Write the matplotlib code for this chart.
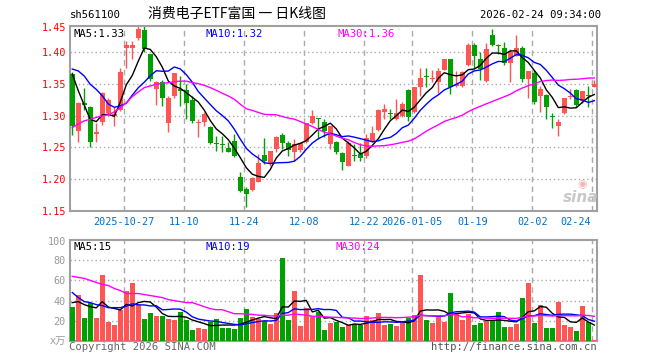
import numpy as np
import pandas as pd
import matplotlib
matplotlib.use('Agg')
import matplotlib.pyplot as plt
from matplotlib.transforms import blended_transform_factory

# ---------------- data ----------------
opens = [1.365, 1.276, 1.319, 1.314, 1.271, 1.290, 1.304, 1.2995, 1.309, 1.406,
         1.406, 1.421, 1.435, 1.396, 1.341, 1.352, 1.289, 1.330, 1.342, 1.340,
         1.325, 1.288, 1.290, 1.282, 1.257, 1.256, 1.249, 1.260, 1.204, 1.185,
         1.183, 1.196, 1.238, 1.226, 1.248, 1.269, 1.257, 1.243, 1.246, 1.259,
         1.289, 1.295, 1.290, 1.255, 1.259, 1.241, 1.221, 1.237, 1.240, 1.237,
         1.260, 1.278, 1.306, 1.303, 1.294, 1.300, 1.340, 1.305, 1.344, 1.361,
         1.358, 1.352, 1.371, 1.388, 1.346, 1.346, 1.380, 1.410, 1.389, 1.354,
         1.426, 1.410, 1.406, 1.383, 1.394, 1.406, 1.357, 1.366, 1.330, 1.332,
         1.298, 1.283, 1.304, 1.329, 1.340, 1.323, 1.331, 1.345]
highs = [1.368, 1.321, 1.343, 1.315, 1.289, 1.337, 1.327, 1.314, 1.374, 1.417,
         1.417, 1.443, 1.443, 1.397, 1.354, 1.355, 1.330, 1.367, 1.362, 1.350,
         1.330, 1.294, 1.305, 1.283, 1.268, 1.268, 1.259, 1.271, 1.211, 1.188,
         1.203, 1.240, 1.265, 1.245, 1.268, 1.272, 1.260, 1.263, 1.259, 1.289,
         1.309, 1.296, 1.295, 1.284, 1.260, 1.242, 1.260, 1.255, 1.257, 1.271,
         1.284, 1.311, 1.318, 1.310, 1.326, 1.321, 1.341, 1.345, 1.375, 1.375,
         1.372, 1.375, 1.389, 1.389, 1.370, 1.370, 1.414, 1.414, 1.400, 1.414,
         1.436, 1.413, 1.415, 1.405, 1.426, 1.409, 1.370, 1.372, 1.346, 1.333,
         1.304, 1.295, 1.328, 1.341, 1.341, 1.339, 1.346, 1.355]
lows = [1.270, 1.259, 1.309, 1.251, 1.258, 1.285, 1.300, 1.284, 1.307, 1.375,
        1.389, 1.419, 1.399, 1.354, 1.316, 1.315, 1.274, 1.327, 1.315, 1.294,
        1.288, 1.267, 1.284, 1.255, 1.245, 1.243, 1.242, 1.235, 1.180, 1.156,
        1.182, 1.195, 1.224, 1.221, 1.242, 1.248, 1.237, 1.228, 1.243, 1.257,
        1.287, 1.263, 1.267, 1.247, 1.240, 1.214, 1.220, 1.229, 1.229, 1.234,
        1.259, 1.276, 1.294, 1.294, 1.293, 1.298, 1.292, 1.304, 1.331, 1.344,
        1.352, 1.336, 1.371, 1.333, 1.344, 1.344, 1.377, 1.375, 1.356, 1.353,
        1.409, 1.396, 1.380, 1.353, 1.393, 1.352, 1.328, 1.318, 1.305, 1.294,
        1.281, 1.268, 1.302, 1.326, 1.314, 1.320, 1.313, 1.344]
closes = [1.283, 1.320, 1.317, 1.258, 1.274, 1.336, 1.324, 1.302, 1.369, 1.410,
          1.410, 1.436, 1.405, 1.358, 1.353, 1.328, 1.327, 1.366, 1.339, 1.320,
          1.291, 1.290, 1.302, 1.257, 1.255, 1.253, 1.243, 1.236, 1.182, 1.176,
          1.202, 1.226, 1.228, 1.244, 1.266, 1.257, 1.246, 1.255, 1.257, 1.288,
          1.300, 1.294, 1.275, 1.283, 1.243, 1.227, 1.257, 1.236, 1.234, 1.265,
          1.273, 1.309, 1.310, 1.302, 1.304, 1.318, 1.298, 1.344, 1.359, 1.360,
          1.359, 1.370, 1.388, 1.344, 1.350, 1.368, 1.410, 1.393, 1.373, 1.405,
          1.410, 1.409, 1.383, 1.400, 1.406, 1.357, 1.370, 1.321, 1.341, 1.313,
          1.297, 1.290, 1.327, 1.331, 1.316, 1.339, 1.330, 1.349]
volumes = [34, 46, 23, 38, 23, 65, 19, 16, 31, 50,
           57, 36, 22, 28, 25, 25, 22, 21, 29, 21,
           11, 13, 12, 19, 22, 13, 13, 12, 23, 32,
           24, 22, 20, 17, 28, 82, 21, 50, 15, 33,
           25, 29, 11, 18, 19, 14, 16, 17, 16, 25,
           21, 28, 16, 17, 15, 19, 23, 26, 65, 21,
           18, 24, 19, 48, 27, 21, 27, 16, 18, 20,
           21, 29, 14, 14, 17, 43, 57, 18, 36, 13,
           13, 39, 16, 14, 10, 35, 19, 1]

# moving-average values before enough history is visible
ma5_head = [1.365, 1.339, 1.316, 1.294]
ma10_head = [1.373, 1.370, 1.362, 1.349, 1.341, 1.331, 1.318, 1.313, 1.315]
ma30_head = [1.281, 1.2865, 1.2917, 1.294, 1.297, 1.2995, 1.301, 1.3057, 1.3125,
             1.320, 1.3297, 1.337, 1.3438, 1.3464, 1.349, 1.3505, 1.3516, 1.353,
             1.354, 1.354, 1.3516, 1.350, 1.3474, 1.3438, 1.3396, 1.335, 1.3307,
             1.3255, 1.3177]
vma5_head = [38, 39, 36, 34]
vma10_head = [48, 43, 39, 38, 36, 35, 33, 33, 33]
vma30_head = [64, 63, 62, 60, 58, 56, 55, 52, 50, 47, 47, 47, 46, 45, 44, 43,
              41, 40, 39, 38, 38, 36, 34, 32, 31, 31, 29, 27, 27]

date_tick_idx = [9, 19, 29, 39, 49, 57, 67, 77, 87]
date_tick_labels = ['2025-10-27', '11-10', '11-24', '12-08', '12-22',
                    '2026-01-05', '01-19', '02-02', '02-24']
price_ticks = [1.40, 1.35, 1.30, 1.25, 1.20, 1.15]
price_tick_labels = ['1.40', '1.35', '1.30', '1.25', '1.20', '1.15']
price_top_label = '1.45'
vol_ticks = [80, 60, 40, 20]
vol_tick_labels = ['80', '60', '40', '20']
vol_top_label = '100'

price_legend = ['MA5:1.33', 'MA10:1.32', 'MA30:1.36']
vol_legend = ['MA5:15', 'MA10:19', 'MA30:24']

# ---------------- style ----------------
RED = '#ff5555'
GREEN = '#00a000'
MA_COLORS = ['#000000', '#0000ff', '#ff00ff']
GRID = '#aaaaaa'
FRAME = '#a0a0a0'
MONO = 'DejaVu Sans Mono'
FS = 7.3

W, H = 660, 360
fig = plt.figure(figsize=(W / 100, H / 100), dpi=100)
fig.patch.set_facecolor('white')


def box(l, t, r, b):
    return [l / W, 1 - b / H, (r - l) / W, (b - t) / H]


def ptext(x, y, s, **kw):
    fig.text(x / W, 1 - y / H, s, **kw)


ax = fig.add_axes(box(70, 26, 597, 211))
axv = fig.add_axes(box(70, 240, 597, 341))

n = len(closes)
x = np.arange(n)
o = np.array(opens); h = np.array(highs); l = np.array(lows); c = np.array(closes)
up = c >= o
cols = np.where(up, RED, GREEN)


def moving(vals, win, head):
    s = pd.Series(vals, dtype=float).rolling(win).mean().to_numpy()
    s[:len(head)] = head
    return s


XMIN, XMAX = -0.38, 87.45
PTOP, PBOT = 1.4406, 1.1515

for a in (ax, axv):
    a.set_xlim(XMIN, XMAX)
    for sp in a.spines.values():
        sp.set_color(FRAME)
        sp.set_linewidth(1.5)
    a.set_xticks([])
    a.tick_params(axis='y', length=0, pad=3)
    for gi in date_tick_idx:
        a.axvline(gi - 1 / 3, color=GRID, lw=1.0, ls=(0, (4, 3)), zorder=0)

# price panel
ax.set_ylim(PBOT, PTOP)
for pt in price_ticks[:-1]:
    ax.axhline(pt, color=GRID, lw=1.0, ls=(0, (1, 2)), zorder=0)
ax.vlines(x, l, h, colors=cols, lw=1.0, zorder=2)
body_b = np.minimum(o, c)
body_h = np.maximum(np.abs(c - o), 0.0016)
ax.bar(x, body_h, bottom=body_b, width=0.75, color=cols, linewidth=0, zorder=3)
for win, head, colr in zip((5, 10, 30), (ma5_head, ma10_head, ma30_head), MA_COLORS):
    ax.plot(x, moving(closes, win, head), color=colr, lw=1.0, zorder=4)
ax.set_yticks([PTOP - 0.0015] + price_ticks)
ax.set_yticklabels([price_top_label] + price_tick_labels, color='#ff0000',
                   fontsize=FS, family=MONO)

# date labels
trans = blended_transform_factory(ax.transData, ax.transAxes)
for gi, lab in zip(date_tick_idx, date_tick_labels):
    ha = 'center'
    xx = gi - 1 / 3
    if gi == date_tick_idx[-1]:
        ha = 'right'
        xx = gi - 0.55
    ax.text(xx, -0.058, lab, transform=trans, ha=ha, va='center',
            color='#0070c8', fontsize=FS, family=MONO)

# volume panel
axv.set_ylim(0, 100)
for vt in vol_ticks:
    axv.axhline(vt, color=GRID, lw=1.0, ls=(0, (1, 2)), zorder=0)
axv.bar(x, volumes, width=0.78, color=cols, linewidth=0, zorder=3)
for win, head, colr in zip((5, 10, 30), (vma5_head, vma10_head, vma30_head), MA_COLORS):
    axv.plot(x, moving(volumes, win, head), color=colr, lw=1.0, zorder=4)
axv.set_yticks([99.2] + vol_ticks + [1])
axv.set_yticklabels([vol_top_label] + vol_tick_labels + ['x万'], color='#999999',
                    fontsize=FS, family=[MONO, 'Noto Sans CJK SC'])

# header texts
ptext(70, 15, 'sh561100', fontsize=FS + 0.3, family=MONO, va='center', ha='left')
ptext(237, 14, '消费电子ETF富国 一 日K线图', fontsize=10, family=['Noto Sans CJK SC'],
      va='center', ha='center')
ptext(601, 15, '2026-02-24 09:34:00', fontsize=FS + 0.3, family=MONO, va='center', ha='right')

# legends
for xp, s, colr in zip((73, 205, 337), price_legend, MA_COLORS):
    ptext(xp, 34, s, fontsize=FS + 0.3, family=MONO, color=colr, va='center', ha='left')
for xp, s, colr in zip((73, 205, 335), vol_legend, MA_COLORS):
    ptext(xp, 247, s, fontsize=FS + 0.3, family=MONO, color=colr, va='center', ha='left')

# footer
ptext(69, 347, 'Copyright 2026 SINA.COM', fontsize=FS + 0.3, family=MONO,
      color='#666666', va='center', ha='left')
ptext(597, 347, 'http://finance.sina.com.cn', fontsize=FS + 0.3, family=MONO,
      color='#555555', va='center', ha='right')

# watermark
ptext(581, 197, 'sina', fontsize=11, family='DejaVu Sans', style='italic',
      weight='bold', color='#c8c8c8', va='center', ha='center')
ptext(582, 184, '◉', fontsize=8, family='DejaVu Sans', color='#f2b8b8',
      va='center', ha='center')

fig.savefig('out.png', dpi=100, facecolor='white')
